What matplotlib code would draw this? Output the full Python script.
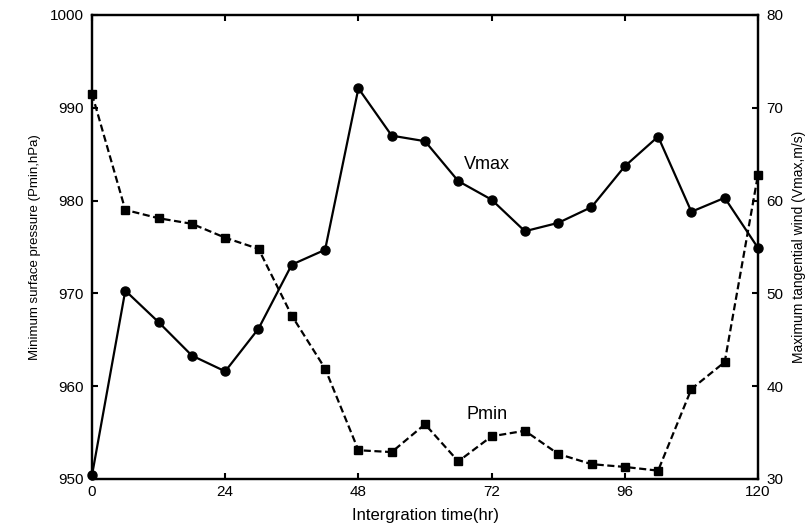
import numpy as np
import matplotlib
matplotlib.use('Agg')
import matplotlib.pyplot as plt

plt.rcParams['font.family'] = ['Liberation Sans', 'DejaVu Sans']

hours = [0, 6, 12, 18, 24, 30, 36, 42, 48, 54, 60, 66, 72, 78, 84, 90, 96, 102, 108, 114, 120]
pmin = [991.5, 979.0, 978.1, 977.5, 976.0, 974.8, 967.6, 961.9, 953.1, 952.9, 955.9,
        951.9, 954.6, 955.2, 952.7, 951.6, 951.3, 950.9, 959.7, 962.6, 982.8]
vmax = [30.4, 50.3, 46.9, 43.3, 41.6, 46.2, 53.1, 54.7, 72.1, 67.0, 66.4,
        62.1, 60.1, 56.7, 57.6, 59.3, 63.7, 66.9, 58.8, 60.3, 54.9]

xticks = [0, 24, 48, 72, 96, 120]
pticks = [950, 960, 970, 980, 990, 1000]
vticks = [30, 40, 50, 60, 70, 80]

fig = plt.figure(figsize=(8.09, 5.28), dpi=100)
ax = fig.add_axes([92 / 809, 1 - 479 / 528, (758 - 92) / 809, (479 - 15) / 528])
ax2 = ax.twinx()

ax.plot(hours, pmin, color='black', lw=1.6, linestyle=(0, (3.2, 1.6)),
        marker='s', markersize=5.2, clip_on=False, zorder=3)
ax2.plot(hours, vmax, color='black', lw=1.6, linestyle='-',
         marker='o', markersize=6.5, clip_on=False, zorder=3)

ax.set_xlim(0, 120)
ax.set_ylim(950, 1000)
ax2.set_ylim(30, 80)
ax.set_xticks(xticks)
ax.set_yticks(pticks)
ax2.set_yticks(vticks)

ax.tick_params(axis='x', direction='in', top=True, length=4, width=1.5, labelsize=11, pad=4)
ax.tick_params(axis='y', direction='in', length=4, width=1.5, labelsize=11, pad=6)
ax2.tick_params(axis='y', direction='in', length=4, width=1.5, labelsize=11, pad=6)

for a in (ax, ax2):
    for s in a.spines.values():
        s.set_linewidth(1.6)

ax.set_xlabel('Intergration time(hr)', fontsize=12, labelpad=7)
ax.set_ylabel('Minimum surface pressure (Pmin,hPa)', fontsize=9.5, labelpad=6)
ax2.set_ylabel('Maximum tangential wind (Vmax,m/s)', fontsize=10, labelpad=6)

ax.text(71.2, 983.9, 'Vmax', fontsize=13, ha='center', va='center')
ax.text(71.2, 956.9, 'Pmin', fontsize=13, ha='center', va='center')

plt.savefig('out.png', dpi=100)
